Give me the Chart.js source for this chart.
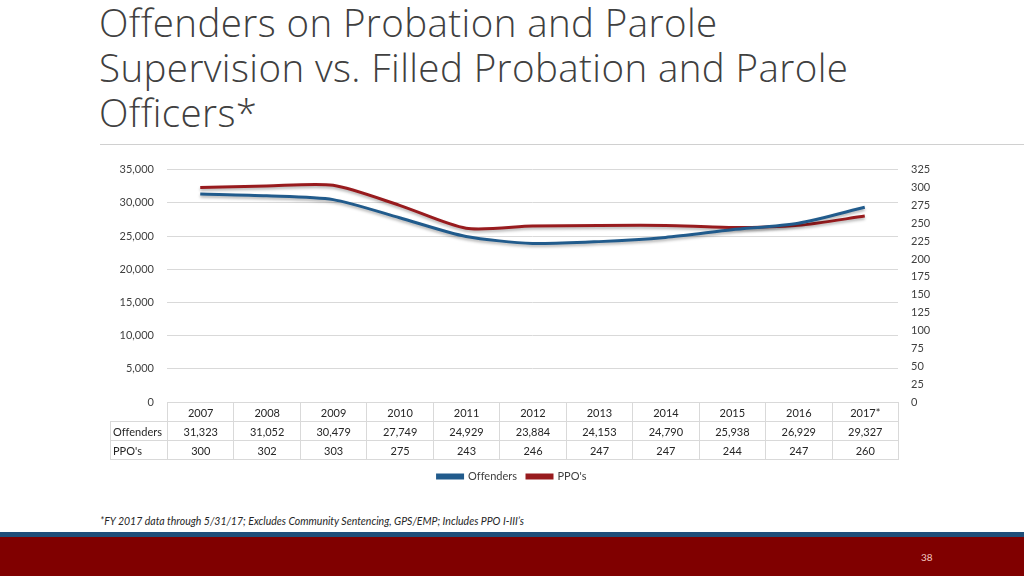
<!DOCTYPE html>
<html>
<head>
<meta charset="utf-8">
<script src="https://cdn.jsdelivr.net/npm/chart.js@4.4.1/dist/chart.umd.min.js"></script>
<style>
  html, body { margin: 0; padding: 0; background: #fff; }
  body { width: 1024px; height: 576px; position: relative; overflow: hidden; font-family: Lato, "Open Sans", sans-serif; font-variant-ligatures: none; }
  #titulo { position: absolute; left: 99px; top: 0px; margin: 0; font-family: "Open Sans", Lato, sans-serif; font-weight: 300; font-size: 38.5px; letter-spacing: 0.4px; line-height: 45px; color: #404040; }
  #divisor { position: absolute; left: 100px; top: 144px; width: 924px; height: 1px; background: #d0d0d0; }
  #contenedor { position: absolute; left: 0; top: 150px; width: 1024px; height: 342px; }
  #tabla { position: absolute; border-collapse: collapse; font-size: 11px; color: #262626; table-layout: fixed; }
  #tabla td { border: 1px solid #d9d9d9; height: 18px; padding: 0; text-align: center; }
  #tabla td.etiqueta { text-align: left; padding-left: 2px; }
  #tabla td.vacio { border: none; }
  #nota { position: absolute; left: 100px; top: 515px; font-size: 10.5px; font-style: italic; color: #262626; font-family: "Liberation Sans Narrow", Lato, sans-serif; }
  #bandaAzul { position: absolute; left: 0; top: 532px; width: 1024px; height: 5px; background: #1f4e79; }
  #bandaRoja { position: absolute; left: 0; top: 537px; width: 1024px; height: 39px; background: #800000; }
  #pagina { position: absolute; left: 921px; top: 551px; font-size: 10px; color: #f2c9c0; }
</style>
</head>
<body>
<h1 id="titulo">Offenders on Probation and Parole<br>Supervision vs. Filled Probation and Parole<br>Officers*</h1>
<div id="divisor"></div>
<div id="contenedor"><canvas id="grafico"></canvas></div>
<table id="tabla"></table>
<div id="nota">*FY 2017 data through 5/31/17; Excludes Community Sentencing, GPS/EMP; Includes PPO I-III’s</div>
<div id="bandaAzul"></div>
<div id="bandaRoja"></div>
<div id="pagina">38</div>

<script>
// Datos
const anios = ['2007', '2008', '2009', '2010', '2011', '2012', '2013', '2014', '2015', '2016', '2017*'];
const offenders = [31323, 31052, 30479, 27749, 24929, 23884, 24153, 24790, 25938, 26929, 29327];
const ppos = [300, 302, 303, 275, 243, 246, 247, 247, 244, 247, 260];
const nombres = ['Offenders', "PPO's"];

const azul = '#215b8c';
const rojo = '#981b1e';
const fuente = { family: 'Lato, "Open Sans", sans-serif', size: 11 };

// Sombra suave bajo las lineas
const sombra = {
  id: 'sombra',
  beforeDatasetDraw(chart) {
    const ctx = chart.ctx;
    ctx.save();
    ctx.shadowColor = 'rgba(0,0,0,0.3)';
    ctx.shadowBlur = 3;
    ctx.shadowOffsetY = 2;
  },
  afterDatasetDraw(chart) {
    chart.ctx.restore();
  }
};

const chart = new Chart(document.getElementById('grafico'), {
  type: 'line',
  data: {
    labels: anios,
    datasets: [
      {
        label: nombres[0],
        data: offenders,
        yAxisID: 'y',
        borderColor: azul,
        backgroundColor: azul,
        borderWidth: 3,
        pointRadius: 0,
        tension: 0.25
      },
      {
        label: nombres[1],
        data: ppos,
        yAxisID: 'y1',
        borderColor: rojo,
        backgroundColor: rojo,
        borderWidth: 3,
        pointRadius: 0,
        tension: 0.25
      }
    ]
  },
  options: {
    responsive: true,
    maintainAspectRatio: false,
    animation: false,
    layout: { padding: { top: 18, bottom: 0, left: 0, right: 0 } },
    plugins: {
      legend: {
        position: 'bottom',
        labels: { boxWidth: 25, boxHeight: 3, color: '#404040', font: fuente, padding: 10 }
      },
      tooltip: { enabled: false }
    },
    scales: {
      x: {
        offset: true,
        grid: { display: false },
        border: { display: false },
        ticks: { display: false },
        afterFit: s => { s.height = 59; }
      },
      y: {
        position: 'left',
        min: 0,
        max: 35000,
        grid: { color: '#d9d9d9', drawTicks: false },
        border: { display: false },
        ticks: {
          stepSize: 5000,
          padding: 13,
          color: '#404040',
          font: fuente,
          callback: v => v.toLocaleString('en-US')
        },
        afterFit: s => { s.width = 167; }
      },
      y1: {
        position: 'right',
        min: 0,
        max: 325,
        grid: { display: false, drawTicks: false },
        border: { display: false },
        ticks: { stepSize: 25, padding: 13, color: '#404040', font: fuente },
        afterFit: s => { s.width = 126; }
      }
    }
  },
  plugins: [sombra]
});

// Tabla de datos alineada con las columnas del eje x
function renderTabla() {
  const area = chart.chartArea;
  const ancho = (area.right - area.left) / anios.length;
  const anchoEtiqueta = 57;
  const tabla = document.getElementById('tabla');
  const top = document.getElementById('contenedor').offsetTop + area.bottom;
  tabla.style.left = (area.left - anchoEtiqueta) + 'px';
  tabla.style.top = top + 'px';
  tabla.style.width = (anchoEtiqueta + ancho * anios.length) + 'px';

  const cols = `<colgroup><col style="width:${anchoEtiqueta}px">` +
    anios.map(() => `<col style="width:${ancho}px">`).join('') + '</colgroup>';
  const fila = (nombre, valores) =>
    `<tr><td class="etiqueta">${nombre}</td>` +
    valores.map(v => `<td>${v.toLocaleString('en-US')}</td>`).join('') + '</tr>';

  tabla.innerHTML = cols +
    '<tr><td class="vacio"></td>' + anios.map(a => `<td>${a}</td>`).join('') + '</tr>' +
    fila(nombres[0], offenders) +
    fila(nombres[1], ppos);
}

renderTabla();
</script>
</body>
</html>
